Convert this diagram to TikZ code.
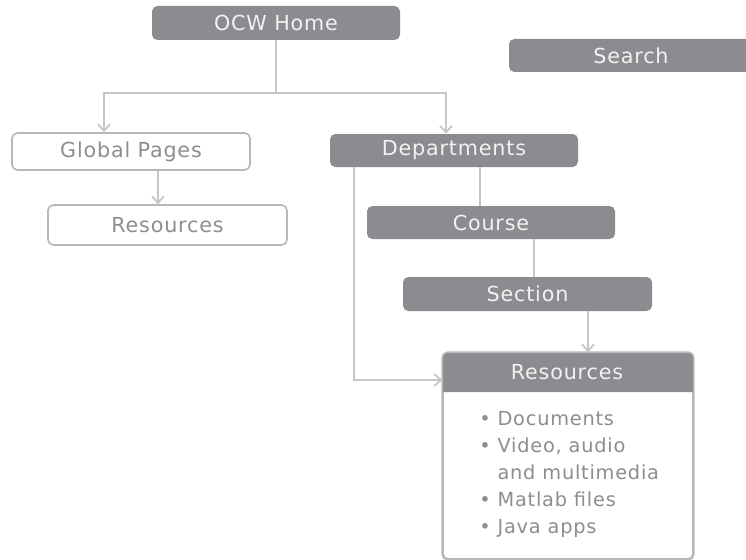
\documentclass[tikz,border=0pt]{standalone}
\usepackage{fontspec}
\setmainfont{DejaVu Sans}[LetterSpace=4]
\usetikzlibrary{arrows.meta}

\definecolor{boxdark}{HTML}{8C8C90}
\definecolor{boxtext}{HTML}{F2F2F2}
\definecolor{edgegray}{HTML}{B8B8B8}
\definecolor{linkgray}{HTML}{C6C6C6}
\definecolor{lighttext}{HTML}{8E8E8E}

\tikzset{
  darkbox/.style={fill=boxdark, text=boxtext, rounded corners=4pt,
    inner sep=0pt, font=\fontsize{15.5}{18}\selectfont},
  lightbox/.style={draw=edgegray, line width=1.2pt, fill=white, text=lighttext,
    rounded corners=4pt, inner sep=0pt, font=\fontsize{15.5}{18}\selectfont},
  link/.style={draw=linkgray, line width=1.5pt},
  arrowlink/.style={link, -{Straight Barb[length=5pt,width=9pt,line width=1.3pt]}},
}

\begin{document}
\begin{tikzpicture}[x=0.75pt, y=-0.75pt]
  \useasboundingbox (0,0) rectangle (746,560);

  % top-level boxes
  \node[darkbox, minimum width=186pt, minimum height=25.5pt] (home) at (276,23) {OCW Home};
  \node[darkbox, minimum width=183pt, minimum height=24.75pt] (search) at (631,55.5) {Search};

  % left branch
  \node[lightbox, minimum width=178.5pt, minimum height=27.75pt] (global) at (131,151.5) {Global Pages};
  \node[lightbox, minimum width=179.25pt, minimum height=30pt] (gres) at (167.5,225) {Resources};

  % right branch
  \node[darkbox, minimum width=186pt, minimum height=24.75pt] (dept) at (454,150.5) {Departments};
  \node[darkbox, minimum width=186pt, minimum height=24.75pt] (course) at (491,222.5) {Course};
  \node[darkbox, minimum width=186.75pt, minimum height=25.5pt] (section) at (527.5,294) {Section};

  % resources panel with a dark header strip
  \node[lightbox, minimum width=187.5pt, minimum height=154.5pt] (res) at (568,456) {};
  \coordinate (hdrL) at (443,392);
  \coordinate (hdrR) at (693,392);
  \fill[boxdark] (hdrL) {[rounded corners=4pt] -- (res.north west) -- (res.north east)} -- (hdrR) -- cycle;
  \draw[draw=edgegray, line width=1.2pt, rounded corners=4pt] (res.north west) rectangle (res.south east);
  \node[text=boxtext, font=\fontsize{15.5}{18}\selectfont] (reshead) at (567,372) {Resources};
  \node[text=lighttext, anchor=north west, align=left, inner sep=0pt,
        font=\fontsize{14.5}{20.25}\selectfont] (reslist) at (479,411)
    {• Documents\\
     • Video, audio\\
     \phantom{•} and multimedia\\
     • Matlab files\\
     • Java apps};

  % connectors
  \coordinate (fork) at (276,93);
  \coordinate (forkL) at (104,93);
  \coordinate (forkR) at (446,93);
  \draw[link] (home.south -| fork) -- (fork);
  \draw[arrowlink] (fork) -- (forkL) -- (forkL |- global.north);
  \draw[arrowlink] (fork) -- (forkR) -- (forkR |- dept.north);

  \coordinate (gdown) at (158,0);
  \draw[arrowlink] (gdown |- global.south) -- (gdown |- gres.north);

  \coordinate (dcx) at (480,0);
  \draw[link] (dcx |- dept.south) -- (dcx |- course.north);
  \coordinate (csx) at (534,0);
  \draw[link] (csx |- course.south) -- (csx |- section.north);
  \coordinate (srx) at (588,0);
  \draw[arrowlink] (srx |- section.south) -- (srx |- res.north);

  \coordinate (dside) at (354,380);
  \draw[arrowlink] (dside |- dept.south) -- (dside) -- (dside -| res.west);
\end{tikzpicture}
\end{document}
